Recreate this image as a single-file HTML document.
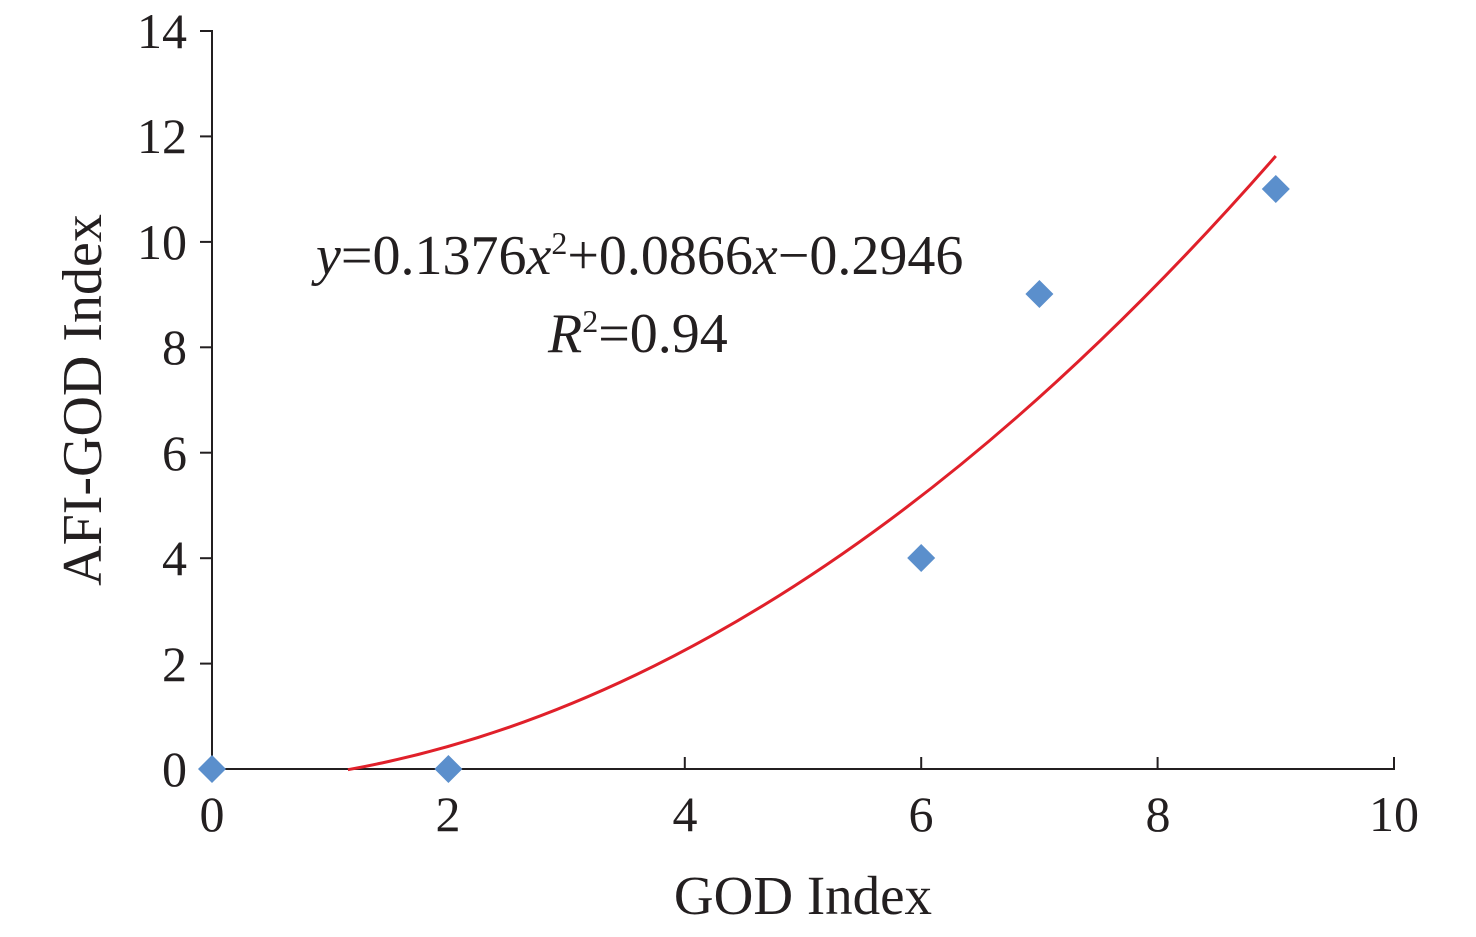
<!DOCTYPE html>
<html><head><meta charset="utf-8"><style>
body{margin:0;background:#fff}
svg text{font-family:"Liberation Serif",serif;fill:#231f20}
</style></head><body>
<svg width="1476" height="932" viewBox="0 0 1476 932" xmlns="http://www.w3.org/2000/svg">
<g stroke="#231f20" stroke-width="2" fill="none">
<line x1="212" y1="30" x2="212" y2="770"/>
<line x1="211" y1="769" x2="1395" y2="769"/>
<line x1="200" y1="769" x2="212" y2="769"/>
<line x1="200" y1="663.6" x2="212" y2="663.6"/>
<line x1="200" y1="558.2" x2="212" y2="558.2"/>
<line x1="200" y1="452.7" x2="212" y2="452.7"/>
<line x1="200" y1="347.3" x2="212" y2="347.3"/>
<line x1="200" y1="241.9" x2="212" y2="241.9"/>
<line x1="200" y1="136.4" x2="212" y2="136.4"/>
<line x1="200" y1="31" x2="212" y2="31"/>
<line x1="448.4" y1="757" x2="448.4" y2="769"/>
<line x1="684.8" y1="757" x2="684.8" y2="769"/>
<line x1="921.2" y1="757" x2="921.2" y2="769"/>
<line x1="1157.6" y1="757" x2="1157.6" y2="769"/>
<line x1="1394" y1="757" x2="1394" y2="769"/>
</g>
<g font-size="50" text-anchor="end">
<text x="187" y="786">0</text>
<text x="187" y="681">2</text>
<text x="187" y="575">4</text>
<text x="187" y="470">6</text>
<text x="187" y="364">8</text>
<text x="187" y="259">10</text>
<text x="187" y="153">12</text>
<text x="187" y="48">14</text>
</g>
<g font-size="50" text-anchor="middle">
<text x="212" y="831">0</text>
<text x="448" y="831">2</text>
<text x="685" y="831">4</text>
<text x="921" y="831">6</text>
<text x="1158" y="831">8</text>
<text x="1394" y="831">10</text>
</g>
<text x="803" y="914" font-size="55" text-anchor="middle">GOD Index</text>
<text transform="translate(101,400) rotate(-90)" font-size="56" text-anchor="middle">AFI-GOD Index</text>
<path d="M347.9,769.7 Q811.9,686.3 1275.8,156" stroke="#e0202a" stroke-width="3" fill="none"/>
<g fill="#5b8fcc">
<path d="M212,755 L226,769 L212,783 L198,769Z"/>
<path d="M448.4,755 L462.4,769 L448.4,783 L434.4,769Z"/>
<path d="M921.2,544 L935.2,558 L921.2,572 L907.2,558Z"/>
<path d="M1039.4,280 L1053.4,294 L1039.4,308 L1025.4,294Z"/>
<path d="M1275.8,175 L1289.8,189 L1275.8,203 L1261.8,189Z"/>
</g>
<text x="316" y="274" font-size="56"><tspan font-style="italic">y</tspan>=0.1376<tspan font-style="italic">x</tspan><tspan font-size="32" dy="-20">2</tspan><tspan dy="20">+0.0866</tspan><tspan font-style="italic">x</tspan>−0.2946</text>
<text x="548" y="352" font-size="56"><tspan font-style="italic">R</tspan><tspan font-size="32" dy="-20">2</tspan><tspan dy="20">=0.94</tspan></text>
</svg>
</body></html>
